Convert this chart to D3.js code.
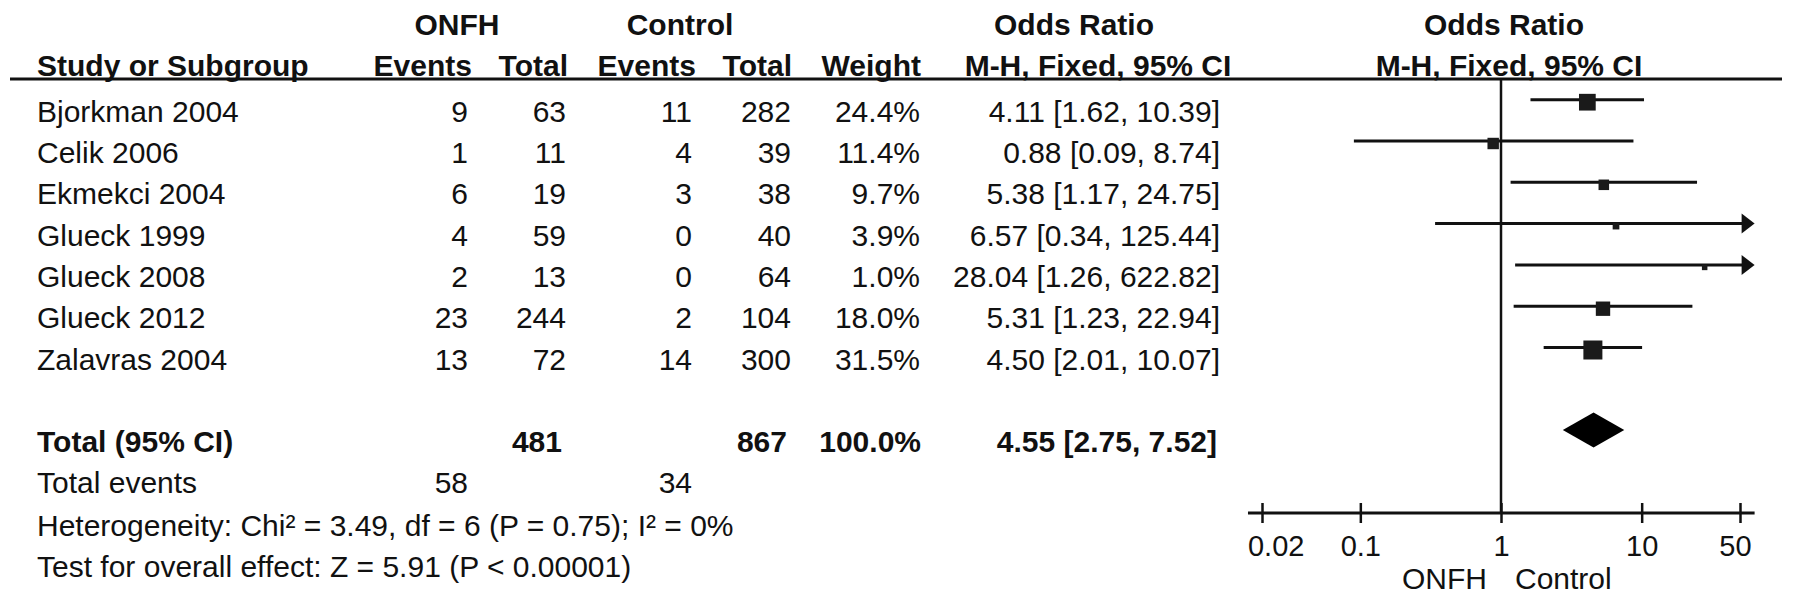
<!DOCTYPE html>
<html>
<head>
<meta charset="utf-8">
<script src="https://cdn.jsdelivr.net/npm/d3@7"></script>
<style>
  html, body { margin: 0; padding: 0; background: #fff; }
  svg { display: block; }
  text { font-family: "Liberation Sans", Arial, Helvetica, sans-serif; fill: #111; }
</style>
</head>
<body>
<svg id="chart" width="1795" height="606"></svg>
<script>
// ---------- data ----------
const studies     = ["Bjorkman 2004", "Celik 2006", "Ekmekci 2004", "Glueck 1999", "Glueck 2008", "Glueck 2012", "Zalavras 2004"];
const onfhEvents  = [9, 1, 6, 4, 2, 23, 13];
const onfhTotal   = [63, 11, 19, 59, 13, 244, 72];
const ctrlEvents  = [11, 4, 3, 0, 0, 2, 14];
const ctrlTotal   = [282, 39, 38, 40, 64, 104, 300];
const weights     = [24.4, 11.4, 9.7, 3.9, 1.0, 18.0, 31.5];
const oddsRatio   = [4.11, 0.88, 5.38, 6.57, 28.04, 5.31, 4.50];
const ciLower     = [1.62, 0.09, 1.17, 0.34, 1.26, 1.23, 2.01];
const ciUpper     = [10.39, 8.74, 24.75, 125.44, 622.82, 22.94, 10.07];

const totalN       = [481, 867];
const totalEvents  = [58, 34];
const totalWeight  = 100.0;
const pooled       = [4.55, 2.75, 7.52];   // OR, lower, upper

const tickValues = [0.02, 0.1, 1, 10, 50];
const tickLabels = ["0.02", "0.1", "1", "10", "50"];
const axisExtent = [0.0159, 63.5];

const heterogeneityText = "Heterogeneity: Chi\u00B2 = 3.49, df = 6 (P = 0.75); I\u00B2 = 0%";
const overallText = "Test for overall effect: Z = 5.91 (P < 0.00001)";

// ---------- layout ----------
const svg = d3.select("#chart");
const FS = 30;

const x = d3.scaleLog().domain([0.02, 50]).range([1262, 1740]);
const rowY = d3.scaleLinear().domain([0, 1]).range([121.7, 163.0]); // baseline of row i
const wScale = d3.scaleSqrt().domain([0, 31.5]).range([0, 19]);

const col = { study: 37, ev1: 468, tot1: 566, ev2: 692, tot2: 791, weight: 920, or: 1220 };

function txt(xp, yp, s, opts = {}) {
  return svg.append("text")
    .attr("x", xp).attr("y", yp)
    .attr("text-anchor", opts.anchor || "start")
    .attr("font-size", opts.size || FS)
    .attr("font-weight", opts.bold ? "bold" : "normal")
    .text(s);
}

// ---------- header ----------
txt(457, 35, "ONFH", { anchor: "middle", bold: true });
txt(680, 35, "Control", { anchor: "middle", bold: true });
txt(1074, 35, "Odds Ratio", { anchor: "middle", bold: true });
txt(1504, 35, "Odds Ratio", { anchor: "middle", bold: true });

const hy = 75.5;
txt(col.study, hy, "Study or Subgroup", { bold: true });
txt(472, hy, "Events", { anchor: "end", bold: true });
txt(568, hy, "Total", { anchor: "end", bold: true });
txt(696, hy, "Events", { anchor: "end", bold: true });
txt(792, hy, "Total", { anchor: "end", bold: true });
txt(921, hy, "Weight", { anchor: "end", bold: true });
txt(1098, hy, "M-H, Fixed, 95% CI", { anchor: "middle", bold: true });
txt(1509, hy, "M-H, Fixed, 95% CI", { anchor: "middle", bold: true });

svg.append("line")
  .attr("x1", 10).attr("x2", 1782).attr("y1", 79).attr("y2", 79)
  .attr("stroke", "#111").attr("stroke-width", 3);

// ---------- study rows ----------
const fmt2 = d3.format(".2f");
const fmtPct = v => d3.format(".1f")(v) + "%";
const orText = (o, l, u) => `${fmt2(o)} [${fmt2(l)}, ${fmt2(u)}]`;

studies.forEach((s, i) => {
  const y = rowY(i);
  txt(col.study, y, s);
  txt(col.ev1, y, onfhEvents[i], { anchor: "end" });
  txt(col.tot1, y, onfhTotal[i], { anchor: "end" });
  txt(col.ev2, y, ctrlEvents[i], { anchor: "end" });
  txt(col.tot2, y, ctrlTotal[i], { anchor: "end" });
  txt(col.weight, y, fmtPct(weights[i]), { anchor: "end" });
  txt(col.or, y, orText(oddsRatio[i], ciLower[i], ciUpper[i]), { anchor: "end" });
});

// total rows
const yTot = rowY(8);
txt(col.study, yTot, "Total (95% CI)", { bold: true });
txt(col.tot1 - 4, yTot, totalN[0], { anchor: "end", bold: true });
txt(col.tot2 - 4, yTot, totalN[1], { anchor: "end", bold: true });
txt(col.weight + 1, yTot, fmtPct(totalWeight), { anchor: "end", bold: true });
txt(col.or - 3, yTot, orText(pooled[0], pooled[1], pooled[2]), { anchor: "end", bold: true });

const yEv = rowY(9);
txt(col.study, yEv, "Total events");
txt(col.ev1, yEv, totalEvents[0], { anchor: "end" });
txt(col.ev2, yEv, totalEvents[1], { anchor: "end" });

txt(col.study, rowY(10) + 1, heterogeneityText);
txt(col.study, rowY(11) + 1, overallText);

// ---------- forest plot ----------
const axisY = 513;
const plot = svg.append("g");

// vertical line of no effect
plot.append("line")
  .attr("x1", x(1)).attr("x2", x(1))
  .attr("y1", 79).attr("y2", axisY)
  .attr("stroke", "#111").attr("stroke-width", 2.5);

const xMax = x(axisExtent[1]);
const xMin = x(axisExtent[0]);

studies.forEach((s, i) => {
  const cy = rowY(i) - 22;
  const lo = Math.max(x(ciLower[i]), xMin);
  const clippedHi = x(ciUpper[i]) > xMax;
  const hi = clippedHi ? xMax - 10 : x(ciUpper[i]);
  plot.append("line")
    .attr("x1", lo).attr("x2", hi).attr("y1", cy).attr("y2", cy)
    .attr("stroke", "#111").attr("stroke-width", 3);
  if (clippedHi) {
    plot.append("path")
      .attr("d", `M${xMax - 13},${cy - 10} L${xMax},${cy} L${xMax - 13},${cy + 10} Z`)
      .attr("fill", "#111");
  }
  const side = Math.max(5.5, wScale(weights[i]));
  plot.append("rect")
    .attr("x", x(oddsRatio[i]) - side / 2)
    .attr("y", cy + 2.5 - side / 2)
    .attr("width", side).attr("height", side)
    .attr("fill", "#1a1a1a");
});

// pooled diamond
const dy = yTot - 22;
plot.append("path")
  .attr("d", `M${x(pooled[1])},${dy} L${x(pooled[0])},${dy - 17.5} L${x(pooled[2])},${dy} L${x(pooled[0])},${dy + 17.5} Z`)
  .attr("fill", "#000");

// axis
const axis = d3.axisBottom(x)
  .tickValues(tickValues)
  .tickFormat((d, i) => tickLabels[i])
  .tickSizeOuter(0);
const gAxis = plot.append("g").attr("transform", `translate(0,${axisY})`).call(axis);
gAxis.select(".domain").remove();
gAxis.append("line")
  .attr("x1", xMin).attr("x2", xMax).attr("y1", 0).attr("y2", 0)
  .attr("stroke", "#111").attr("stroke-width", 3);
gAxis.selectAll(".tick line")
  .attr("y1", -10).attr("y2", 10)
  .attr("stroke", "#111").attr("stroke-width", 2.5);
gAxis.selectAll(".tick text")
  .attr("y", 43).attr("dy", 0)
  .attr("font-size", 29)
  .attr("font-family", "'Liberation Sans', Arial, Helvetica, sans-serif")
  .attr("fill", "#111")
  .each(function () {
    // keep end labels within axis line extent
    const t = d3.select(this);
    const tick = d3.select(this.parentNode);
    const tx = +tick.attr("transform").match(/translate\(([-\d.]+)/)[1];
    const w = this.getComputedTextLength();
    let left = tx - w / 2;
    if (left < xMin) t.attr("x", xMin - left);
    let right = tx + w / 2;
    if (right > xMax - 3) t.attr("x", (xMax - 3) - right);
  });

// direction labels
txt(x(1) - 14, axisY + 76, "ONFH", { anchor: "end" });
txt(x(1) + 14, axisY + 76, "Control");
</script>
</body>
</html>
